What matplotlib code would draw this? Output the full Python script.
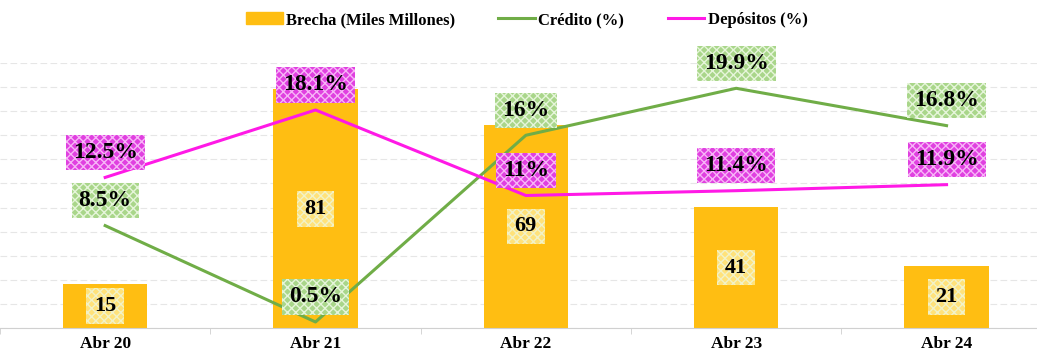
import matplotlib
matplotlib.use("Agg")
import matplotlib.pyplot as plt
from matplotlib.patches import Patch
from matplotlib.lines import Line2D
import numpy as np

categories = ["Abr 20", "Abr 21", "Abr 22", "Abr 23", "Abr 24"]
brecha = [15, 81, 69, 41, 21]
credito = [8.5, 0.5, 16, 19.9, 16.8]
depositos = [12.5, 18.1, 11, 11.4, 11.9]
credito_labels = ["8.5%", "0.5%", "16%", "19.9%", "16.8%"]
depositos_labels = ["12.5%", "18.1%", "11%", "11.4%", "11.9%"]

ORANGE = "#FFBE12"
GREEN = "#70AD47"
MAGENTA = "#FF19E6"
SERIF = ["Liberation Serif", "DejaVu Serif"]

fig = plt.figure(figsize=(10.37, 3.58), dpi=100)
ax = fig.add_axes([0.0, 1 - 328 / 358, 1.0, (328 - 63) / 358])
ax2 = ax.twinx()

x = np.arange(len(categories))

# grid (aligned with line-axis 0..22 step 2)
ax.set_ylim(0, 90)
ax.set_yticks(np.linspace(0, 90, 12))
ax.yaxis.grid(True, color="#e6e6e6", linestyle=(0, (6, 3)), linewidth=0.8)
ax.set_axisbelow(True)
ax.tick_params(axis="y", left=False, labelleft=False)

ax.bar(x, brecha, width=0.4, color=ORANGE, zorder=2)
ax.set_xlim(-0.49, 4.43)
ax.set_xticks(x)
ax.set_xticklabels(categories, fontfamily=SERIF, fontweight="bold", fontsize=12.5)
ax.set_xticks(np.arange(-0.5, 4.5, 1), minor=True)
ax.tick_params(axis="x", which="major", length=0, pad=6)
ax.tick_params(axis="x", which="minor", length=4, color="#cfcfcf")
for s in ["top", "left", "right"]:
    ax.spines[s].set_visible(False)
ax.spines["bottom"].set_color("#d0d0d0")

for xi, v in zip(x, brecha):
    ax.text(xi, v / 2, str(v), ha="center", va="center", fontfamily=SERIF,
            fontweight="bold", fontsize=16, zorder=5,
            bbox=dict(boxstyle="square,pad=0.35", fc="#FFE27A", ec="#F2F2C8",
                      lw=0, hatch="xxxx"))

ax2.set_ylim(0, 22)
ax2.plot(x, credito, color=GREEN, lw=2.2, zorder=3)
ax2.plot(x, depositos, color=MAGENTA, lw=2.2, zorder=3)
ax2.tick_params(axis="y", right=False, labelright=False)
for s in ["top", "left", "right", "bottom"]:
    ax2.spines[s].set_visible(False)

for xi, v, t in zip(x, credito, credito_labels):
    ax2.annotate(t, (xi, v), xytext=(0, 18), textcoords="offset points",
                 ha="center", va="center", fontfamily=SERIF, fontweight="bold",
                 fontsize=17, zorder=6, annotation_clip=False,
                 bbox=dict(boxstyle="square,pad=0.3", fc="#A9D68A", ec="#E6F5DA",
                           lw=0, hatch="xxxx"))
for xi, v, t in zip(x, depositos, depositos_labels):
    ax2.annotate(t, (xi, v), xytext=(0, 18), textcoords="offset points",
                 ha="center", va="center", fontfamily=SERIF, fontweight="bold",
                 fontsize=17, zorder=6, annotation_clip=False,
                 bbox=dict(boxstyle="square,pad=0.3", fc="#E040E0", ec="#F7B5F7",
                           lw=0, hatch="xxxx"))

handles = [Patch(color=ORANGE), Line2D([], [], color=GREEN, lw=2.2),
           Line2D([], [], color=MAGENTA, lw=2.2)]
labels = ["Brecha (Miles Millones)", "Crédito (%)", "Depósitos (%)"]
fig.legend(handles, labels, loc="center", bbox_to_anchor=(0.508, 1 - 20 / 358),
           ncol=3, frameon=False, handlelength=2.2, handletextpad=0.2,
           columnspacing=2.6, prop=dict(family=SERIF, weight="bold", size=12))

fig.savefig("out.png", dpi=100)
